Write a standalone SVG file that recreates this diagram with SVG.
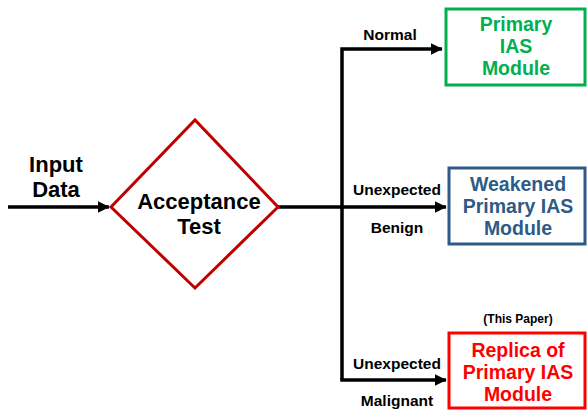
<svg xmlns="http://www.w3.org/2000/svg" width="587" height="410" viewBox="0 0 587 410">
<style>
text{font-family:"Liberation Sans",Arial,sans-serif;font-weight:bold;text-anchor:middle}
.big{font-size:19.5px}
.huge{font-size:22px}
.lbl{font-size:15.5px;fill:#000}
.conn{stroke:#000;stroke-width:3.5;fill:none}
</style>
<defs>
<marker id="ah" markerWidth="4" markerHeight="4" refX="3.2" refY="2" orient="auto" markerUnits="strokeWidth">
<path d="M0,0.3 L3.4,2 L0,3.7 Z" fill="#000"/>
</marker>
</defs>
<rect width="587" height="410" fill="#fff"/>
<g id="connectors">
<line class="conn" x1="8" y1="207" x2="109" y2="207" marker-end="url(#ah)"/>
<line class="conn" x1="278" y1="207" x2="446" y2="207" marker-end="url(#ah)"/>
<polyline class="conn" points="342,380 342,49 442,49" marker-end="url(#ah)"/>
<polyline class="conn" points="342,378 342,380 446,380" marker-end="url(#ah)"/>
</g>
<g id="labels">
<text class="huge" x="56" y="172">Input</text>
<text class="huge" x="56" y="197">Data</text>
<text class="lbl" x="390" y="40">Normal</text>
<text class="lbl" x="397" y="195">Unexpected</text>
<text class="lbl" x="397" y="233">Benign</text>
<text class="lbl" x="397" y="369">Unexpected</text>
<text class="lbl" x="397" y="406">Malignant</text>
<text x="518" y="323" style="font-size:12px">(This Paper)</text>
</g>
<g id="acceptance">
<polygon points="111,207 195,120 278,207 195,288" fill="#fff" stroke="#c00000" stroke-width="3"/>
<text class="huge" x="199" y="209">Acceptance</text>
<text class="huge" x="199" y="234">Test</text>
</g>
<g id="primary">
<rect x="446" y="9" width="139" height="76" fill="#fff" stroke="#00b050" stroke-width="3"/>
<text class="big" x="516" y="31" fill="#00b050">Primary</text>
<text class="big" x="516" y="53" fill="#00b050">IAS</text>
<text class="big" x="516" y="75" fill="#00b050">Module</text>
</g>
<g id="weakened">
<rect x="449" y="168" width="136" height="76" fill="#fff" stroke="#2e5a87" stroke-width="3"/>
<text class="big" x="518" y="191" fill="#2e5a87">Weakened</text>
<text class="big" x="518" y="213" fill="#2e5a87">Primary IAS</text>
<text class="big" x="518" y="235" fill="#2e5a87">Module</text>
</g>
<g id="replica">
<rect x="449" y="333" width="136" height="75" fill="#fff" stroke="#ff0000" stroke-width="3"/>
<text class="big" x="518" y="357" fill="#ff0000">Replica of</text>
<text class="big" x="518" y="379" fill="#ff0000">Primary IAS</text>
<text class="big" x="518" y="401" fill="#ff0000">Module</text>
</g>
</svg>
